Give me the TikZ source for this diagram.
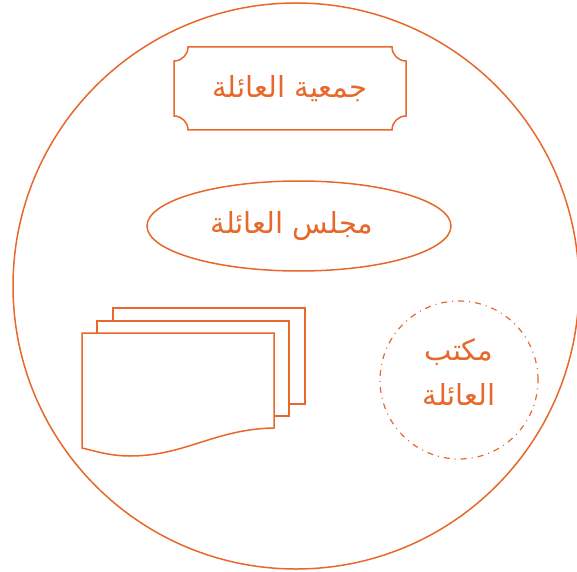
\documentclass[tikz,border=0pt]{standalone}
\usepackage{fontspec}
\newfontfamily\arabicfont[Script=Arabic]{DejaVu Sans}
\TeXXeTstate=1
\usetikzlibrary{positioning, shapes.geometric}
\definecolor{famorange}{RGB}{231,104,42}

\begin{document}
\begin{tikzpicture}[
    x=1pt, y=1pt,
    line width=1.5pt,
    lbl/.style={text=famorange, font=\arabicfont\fontsize{29}{45}\selectfont, align=center, outer sep=0pt},
    page/.style={draw=famorange, fill=white, minimum width=192pt, minimum height=96pt, inner sep=0pt, outer sep=0pt},
    ring/.style={draw=famorange, circle, inner sep=0pt, outer sep=0pt}
  ]
  \useasboundingbox (0,0) rectangle (577,571);
  % outer family circle
  \node[ring, minimum size=566pt] (family) at (296,285) {};
  % association box with concave corners
  \node[lbl, minimum width=232pt, minimum height=83pt] (assoc) at (290,482.5) {\beginR جمعية العائلة\endR};
  \draw[famorange] ([xshift=14pt]assoc.north west) -- ([xshift=-14pt]assoc.north east)
    arc (180:270:14pt) -- ([yshift=14pt]assoc.south east)
    arc (90:180:14pt) -- ([xshift=14pt]assoc.south west)
    arc (0:90:14pt) -- ([yshift=-14pt]assoc.north west)
    arc (270:360:14pt) -- cycle;
  % council
  \node[lbl, draw=famorange, ellipse, minimum width=304pt, minimum height=90pt] (council) at (299,345) {\beginR مجلس العائلة\endR\kern14pt};
  % stack of documents
  \node[page] (back) at (209,215) {};
  \node[page, minimum height=95pt] (mid) at (193,202.5) {};
  \draw[famorange, fill=white] (82,238) -- (274,238) -- (274,143)
    .. controls (215,142) and (185,115) .. (130,115)
    .. controls (110,115) and (95,120) .. (82,123) -- cycle;
  % office
  \node[ring, lbl, line width=1.2pt, dash pattern=on 6pt off 5pt on 1pt off 5pt, minimum size=158pt] (office) at (459,191)
    {\beginR مكتب\endR\\\beginR العائلة\endR\\[-28pt]};
\end{tikzpicture}
\end{document}
